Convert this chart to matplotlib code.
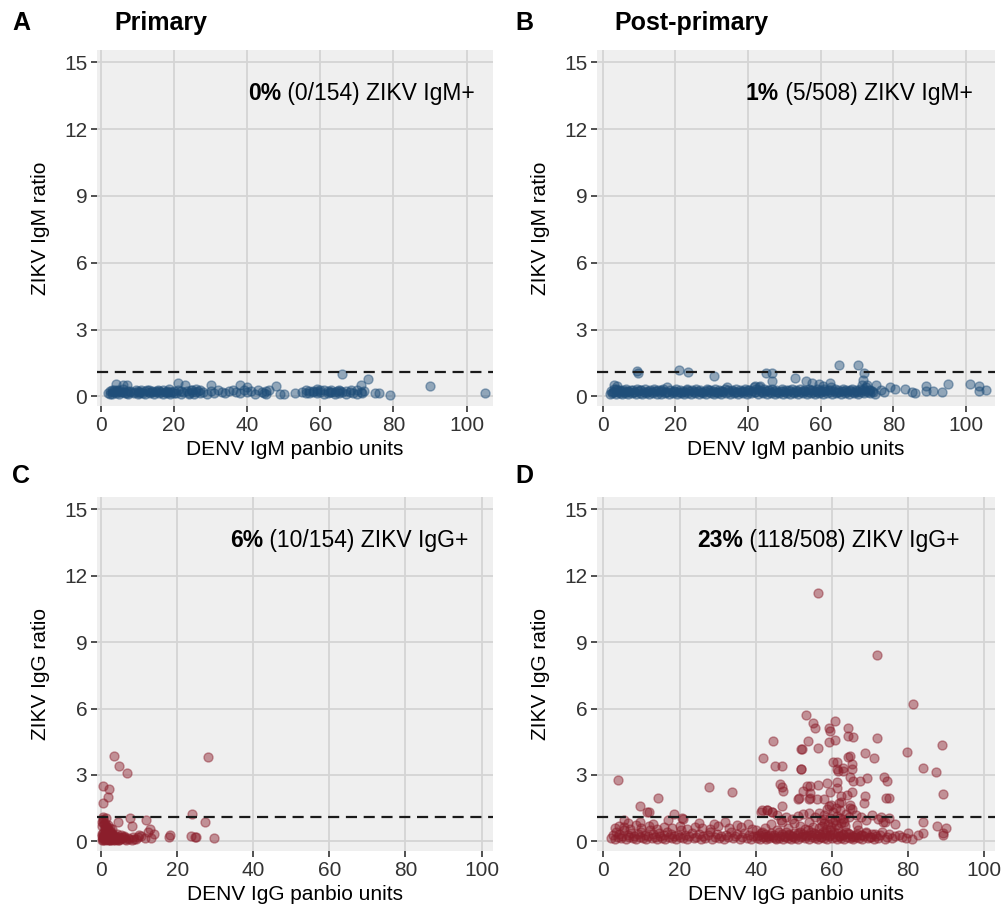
import matplotlib
matplotlib.use("Agg")
import matplotlib.pyplot as plt

plt.rcParams['font.family'] = ['Liberation Sans', 'DejaVu Sans']

# ---- Panel A: primary, DENV IgM vs ZIKV IgM ratio
a_x = [2, 2.5, 3, 3, 3.5, 4, 4, 4.5, 5, 5,
       5.5, 6, 6, 6.5, 7, 7, 7.5, 8, 9, 9.5,
       10, 10, 10.5, 11, 11.5, 12, 12, 13, 13, 13.5,
       14, 14.5, 15, 15.5, 16, 16.5, 17, 17, 18, 18,
       18.5, 19, 19, 20, 20.5, 21, 21, 22, 22.5, 23,
       23.5, 24, 24.5, 25, 25.5, 26, 26, 27, 27, 28,
       29, 30, 30, 31, 32, 33, 34, 35, 36, 37,
       38, 38, 39, 40, 40, 41, 42, 43, 44, 44.5,
       45, 45, 46, 48, 49, 50, 53, 55, 56, 56,
       57, 58, 59, 59, 60, 60, 61, 62, 62, 63,
       64, 64, 65, 65, 66, 66, 67, 67, 68, 69,
       70, 70, 71, 71, 72, 73, 75, 76, 79, 90,
       105, 3, 4.5, 8, 11, 15, 19.5, 24, 59, 65.5,
       2.5, 6, 9, 12.5, 16, 20, 26.5, 57, 63, 68.5,
       3.5, 7, 14, 17.5, 22, 25, 58, 61, 64.5, 71.5,
       5, 10.5, 18, 62.5]
a_y = [0.15, 0.25, 0.1, 0.3, 0.2, 0.15, 0.55, 0.25, 0.1, 0.3,
       0.2, 0.35, 0.5, 0.15, 0.25, 0.5, 0.1, 0.2, 0.15, 0.3,
       0.1, 0.25, 0.2, 0.3, 0.15, 0.1, 0.25, 0.2, 0.3, 0.15,
       0.25, 0.1, 0.2, 0.3, 0.15, 0.2, 0.1, 0.3, 0.25, 0.15,
       0.35, 0.2, 0.1, 0.25, 0.15, 0.6, 0.3, 0.1, 0.2, 0.5,
       0.25, 0.15, 0.3, 0.2, 0.1, 0.35, 0.2, 0.15, 0.3, 0.2,
       0.1, 0.5, 0.25, 0.15, 0.3, 0.2, 0.15, 0.25, 0.3, 0.2,
       0.5, 0.15, 0.3, 0.4, 0.2, 0.25, 0.1, 0.3, 0.2, 0.15,
       0.25, 0.1, 0.3, 0.45, 0.1, 0.1, 0.15, 0.2, 0.3, 0.15,
       0.25, 0.2, 0.35, 0.15, 0.3, 0.2, 0.1, 0.25, 0.15, 0.3,
       0.2, 0.1, 0.3, 0.15, 1.0, 0.2, 0.25, 0.1, 0.2, 0.15,
       0.3, 0.1, 0.5, 0.2, 0.25, 0.8, 0.15, 0.15, 0.05, 0.45,
       0.15, 0.2, 0.3, 0.25, 0.2, 0.25, 0.2, 0.1, 0.25, 0.25,
       0.1, 0.2, 0.2, 0.3, 0.25, 0.15, 0.25, 0.15, 0.2, 0.3,
       0.3, 0.15, 0.2, 0.2, 0.25, 0.3, 0.25, 0.3, 0.25, 0.15,
       0.2, 0.15, 0.2, 0.2]

# ---- Panel B: post-primary, DENV IgM vs ZIKV IgM ratio
b_x = [2, 2.3, 2.6, 3, 3.2, 3.5, 3.8, 4, 4.3, 4.6, 5, 5.2, 5.5, 5.9, 6.1, 6.4, 6.8, 7, 7.3, 7.7,
       8, 8.3, 8.7, 9, 9.4, 9.8, 10.1, 10.5, 10.8, 11.2, 11.6, 12, 12.3, 12.7, 13, 13.4, 13.8, 14.1, 14.5, 14.9,
       15.2, 15.6, 16, 16.3, 16.7, 17.1, 17.5, 17.8, 18.2, 18.6, 19, 19.3, 19.7, 20.1, 20.5, 20.8, 21.2, 21.6, 22, 22.3,
       22.7, 23.1, 23.5, 23.8, 24.2, 24.6, 25, 25.3, 25.7, 26.1, 26.5, 26.8, 27.2, 27.6, 28, 28.3, 28.7, 29.1, 29.5, 29.8,
       30.2, 30.6, 31, 31.3, 31.7, 32.1, 32.5, 32.8, 33.2, 33.6, 34, 34.3, 34.7, 35.1, 35.5, 35.8, 36.2, 36.6, 37, 37.3,
       37.7, 38.1, 38.5, 38.8, 39.2, 39.6, 40, 40.3, 40.7, 41.1, 41.5, 41.8, 42.2, 42.6, 43, 43.3, 43.7, 44.1, 44.5, 44.8,
       45.2, 45.6, 46, 46.3, 46.7, 47.1, 47.5, 47.8, 48.2, 48.6, 49, 49.3, 49.7, 50.1, 50.5, 50.8, 51.2, 51.6, 52, 52.3,
       52.7, 53.1, 53.5, 53.8, 54.2, 54.6, 55, 55.3, 55.7, 56.1, 56.5, 56.8, 57.2, 57.6, 58, 58.3, 58.7, 59.1, 59.5, 59.8,
       60.2, 60.6, 61, 61.3, 61.7, 62.1, 62.5, 62.8, 63.2, 63.6, 64, 64.3, 64.7, 65.1, 65.5, 65.8, 66.2, 66.6, 67, 67.3,
       67.7, 68.1, 68.5, 68.8, 69.2, 69.6, 70, 70.3, 70.7, 71.1, 71.5, 71.8, 72.2, 72.6, 73, 73.3, 73.7, 74.1, 74.5, 75,
       2.8, 4.8, 6.6, 8.5, 10.3, 12.2, 14, 15.9, 17.7, 19.5, 21.4, 23.3, 25.2, 27, 28.9, 30.8, 32.6, 34.5, 36.4, 38.3,
       40.1, 42, 43.9, 45.8, 47.6, 49.5, 51.4, 53.3, 55.1, 57, 58.9, 60.7, 62.6, 64.5, 66.4, 68.2, 70.1, 71.9, 72.8, 73.5,
       9.4, 9.8, 21, 23.4, 30.6, 44.9, 46.6, 46.6, 52.9, 56, 57.5, 59.4, 62.6, 65.1, 70.4, 72, 71.6, 71.3, 75.2, 79,
       80.4, 83.1, 85, 89, 89, 90.8, 93.3, 95, 101, 103.6, 103.6, 105.5, 76.5, 77.5, 86, 3, 3.5, 42, 43, 60.5]
b_y = [0.1, 0.25, 0.15, 0.35, 0.2, 0.1, 0.3, 0.45, 0.2, 0.15, 0.25, 0.1, 0.3, 0.2, 0.15, 0.35, 0.1, 0.25, 0.2, 0.3,
       0.15, 0.3, 0.2, 0.1, 0.35, 0.25, 0.15, 0.3, 0.1, 0.2, 0.35, 0.15, 0.25, 0.1, 0.3, 0.2, 0.15, 0.35, 0.25, 0.1,
       0.3, 0.2, 0.1, 0.25, 0.35, 0.15, 0.2, 0.4, 0.1, 0.3, 0.2, 0.15, 0.25, 0.35, 0.1, 0.2, 0.3, 0.15, 0.25, 0.1,
       0.2, 0.35, 0.15, 0.25, 0.1, 0.3, 0.2, 0.15, 0.35, 0.25, 0.1, 0.3, 0.2, 0.15, 0.25, 0.1, 0.35, 0.2, 0.3, 0.15,
       0.25, 0.1, 0.35, 0.2, 0.15, 0.3, 0.1, 0.25, 0.2, 0.35, 0.15, 0.4, 0.2, 0.1, 0.3, 0.25, 0.15, 0.35, 0.2, 0.1,
       0.3, 0.2, 0.15, 0.25, 0.35, 0.1, 0.2, 0.3, 0.15, 0.25, 0.4, 0.2, 0.35, 0.1, 0.3, 0.45, 0.2, 0.15, 0.35, 0.25,
       0.1, 0.3, 0.2, 0.15, 0.35, 0.25, 0.1, 0.3, 0.2, 0.15, 0.25, 0.35, 0.1, 0.2, 0.3, 0.15, 0.25, 0.1, 0.35, 0.2,
       0.15, 0.3, 0.25, 0.1, 0.35, 0.2, 0.15, 0.3, 0.25, 0.1, 0.2, 0.35, 0.15, 0.3, 0.2, 0.1, 0.25, 0.35, 0.15, 0.3,
       0.2, 0.1, 0.35, 0.25, 0.15, 0.3, 0.2, 0.4, 0.1, 0.25, 0.35, 0.15, 0.3, 0.2, 0.1, 0.25, 0.35, 0.15, 0.3, 0.2,
       0.1, 0.25, 0.35, 0.2, 0.15, 0.3, 0.25, 0.1, 0.35, 0.2, 0.3, 0.15, 0.25, 0.4, 0.2, 0.3, 0.15, 0.25, 0.2, 0.1,
       0.2, 0.3, 0.25, 0.2, 0.3, 0.2, 0.25, 0.3, 0.2, 0.25, 0.2, 0.3, 0.25, 0.2, 0.3, 0.2, 0.25, 0.3, 0.2, 0.25,
       0.3, 0.2, 0.25, 0.3, 0.2, 0.25, 0.3, 0.2, 0.25, 0.3, 0.2, 0.25, 0.3, 0.2, 0.25, 0.3, 0.2, 0.35, 0.5, 0.3,
       1.14, 1.05, 1.2, 1.1, 0.91, 1.05, 1.05, 0.68, 0.83, 0.7, 0.6, 0.55, 0.6, 1.39, 1.39, 1.05, 0.75, 0.5, 0.5, 0.4,
       0.35, 0.35, 0.2, 0.45, 0.25, 0.25, 0.2, 0.55, 0.55, 0.45, 0.25, 0.3, 0.3, 0.2, 0.15, 0.5, 0.35, 0.45, 0.4, 0.45]

# ---- Panel C: primary, DENV IgG vs ZIKV IgG ratio
c_x = [0.2, 0.4, 0.5, 0.6, 0.8, 0.9, 1, 1.1, 1.2, 1.3, 1.4, 1.5, 1.6, 1.7, 1.8, 1.9, 2, 2.1, 2.2, 2.3,
       2.4, 2.5, 2.6, 2.8, 3, 3.2, 3.4, 3.6, 3.8, 4, 4.3, 4.6, 5, 5.4, 5.8, 0.3, 0.7, 1.05, 1.45, 1.85,
       0.35, 0.65, 0.95, 1.25, 1.55, 1.75, 2.05, 2.35, 2.7, 3.1, 3.5, 0.15, 0.55, 0.85, 1.15, 1.65, 2.45, 2.9, 3.3, 4.8,
       0.25, 0.45, 0.75, 1.35, 1.95, 2.55, 3.7, 4.1, 4.5, 6.2, 6.6, 7, 7.4, 8, 8.6, 9.2, 0.6, 1, 1.4, 2.2,
       3.4, 4.7, 6.9, 28.2, 0.5, 2.1, 1.8, 0.4, 0.4, 0.5, 4.5, 7.5, 11.8, 24, 27.3, 8, 12.8, 12.2, 14, 10,
       10.6, 18, 17.8, 23.6, 25, 24.7, 29.6, 5.9, 8.5, 11.5, 1.2, 2.8, 4.2, 5.2, 6, 9.8, 13]
c_y = [0.05, 0.2, 0.4, 0.1, 0.3, 0.6, 0.15, 0.05, 0.25, 0.5, 0.1, 0.35, 0.2, 0.05, 0.45, 0.15, 0.3, 0.1, 0.25, 0.05,
       0.2, 0.4, 0.1, 0.15, 0.3, 0.05, 0.2, 0.1, 0.25, 0.15, 0.05, 0.2, 0.1, 0.15, 0.2, 0.7, 0.8, 0.55, 0.65, 0.75,
       0.35, 0.15, 0.45, 0.3, 0.55, 0.25, 0.5, 0.35, 0.45, 0.2, 0.1, 0.25, 0.05, 0.2, 0.4, 0.1, 0.05, 0.3, 0.15, 0.05,
       0.9, 0.15, 0.25, 0.2, 0.1, 0.3, 0.05, 0.1, 0.15, 0.1, 0.05, 0.15, 0.1, 0.05, 0.1, 0.1, 1.0, 0.85, 0.7, 0.6,
       3.87, 3.4, 3.1, 3.8, 2.5, 2.37, 2.0, 1.73, 1.1, 0.9, 0.9, 1.05, 0.95, 1.25, 0.87, 0.68, 0.55, 0.45, 0.35, 0.3,
       0.25, 0.3, 0.2, 0.25, 0.2, 0.2, 0.15, 0.2, 0.2, 0.15, 1.05, 0.55, 0.35, 0.3, 0.25, 0.2, 0.15]

# ---- Panel D: post-primary, DENV IgG vs ZIKV IgG ratio
d_x = [2, 2.5, 3, 3.4, 3.8, 4.2, 4.6, 5, 5.5, 6, 6.4, 6.8, 7.2, 7.7, 8.1, 8.6, 9, 9.5, 10, 10.4,
       10.9, 11.3, 11.8, 12.2, 12.7, 13.1, 13.6, 14, 14.5, 15, 15.4, 15.9, 16.3, 16.8, 17.2, 17.7, 18.1, 18.6, 19, 19.5,
       20, 20.5, 21, 21.5, 22, 22.6, 23.2, 23.8, 24.4, 25, 25.6, 26.2, 26.8, 27.4, 28, 28.6, 29.2, 29.8, 30.4, 31,
       31.6, 32.2, 32.8, 33.4, 34, 34.6, 35.2, 35.8, 36.4, 37, 37.6, 38.2, 38.8, 39.4, 40, 40.4, 40.8, 41.2, 41.6, 42,
       42.4, 42.8, 43.2, 43.6, 44, 44.4, 44.8, 45.2, 45.6, 46, 46.4, 46.8, 47.2, 47.6, 48, 48.4, 48.8, 49.2, 49.6, 50,
       50.4, 50.8, 51.2, 51.6, 52, 52.4, 52.8, 53.2, 53.6, 54, 54.4, 54.8, 55.2, 55.6, 56, 56.4, 56.8, 57.2, 57.6, 58,
       58.4, 58.8, 59.2, 59.6, 60, 60.4, 60.8, 61.2, 61.6, 62, 62.4, 62.8, 63.2, 63.6, 64, 64.4, 64.8, 65.2, 65.6, 66,
       66.4, 66.8, 67.2, 67.6, 68, 68.5, 69, 69.5, 70, 70.5, 71, 71.5, 72, 72.6, 73.2, 73.8, 74.4, 75, 75.8, 76.6,
       40.2, 41.4, 42.6, 43.8, 45, 46.2, 47.4, 48.6, 49.8, 51, 52.2, 53.4, 54.6, 55.8, 57, 58.2, 59.4, 60.6, 61.8, 63,
       64.2, 65.4, 66.6, 67.8, 69, 70.2, 71.4, 56.5, 57.5, 58.5, 59, 59.8, 60.2, 61, 61.5, 62.5, 63.5, 55, 53, 51.5,
       3, 4, 5.5, 7, 8.5, 10, 12, 14, 16, 18, 20, 22, 24, 26, 28, 30, 33, 36, 39, 77.5,
       78.5, 79.5, 80, 81, 6.5, 9.5, 13, 17, 21, 25, 29, 32, 35, 38, 44, 47, 50, 54, 58, 62,
       55.5, 56.5, 57.2, 58, 58.8, 59.5, 60.3, 61.2, 62, 62.8, 63.6, 64.5, 65.3, 66.2, 57.8, 59.2, 60.7, 61.8, 63.2, 64.8,
       41.5, 43, 44.2, 45.5, 46.5, 48, 49.5, 51, 52.5, 54, 67.5, 69, 70.5, 72, 73.5, 75, 76.5, 42.5, 48.5, 66.5,
       56.4, 71.9, 81.2, 53.2, 55.1, 55.6, 59.3, 59.5, 60.9, 64.1, 64.1, 65.5, 59.3, 60.9, 53.8, 56.4, 52, 44.5, 41.8, 45.1,
       46.8, 52, 71.9, 68.8, 71.1, 79.6, 88.8, 84, 87.3, 89.2, 3.9, 27.8, 33.9, 14.3, 9.6, 11.4, 12.1, 18.6, 20.6, 5.3,
       46.4, 46.8, 47.1, 46.8, 41.6, 42.9, 44.2, 51.2, 52.3, 54.3, 54.3, 56.4, 54.3, 56, 57.8, 58.8, 61.4, 61.4, 63, 64.7,
       65.2, 65.2, 64.7, 65.6, 61.4, 61.4, 62.3, 67.4, 69.3, 68.8, 68.5, 73.6, 74.5, 74.3, 75.1, 65.2, 63.9, 64.7, 59.5, 59.7,
       61, 84, 87.5, 89.9, 84, 82.7, 89.2, 89.2, 72.8, 73.8, 52.1, 52, 51.4, 53.5, 53.9, 60.4, 61.7, 63, 64.3, 62.5]
d_y = [0.15, 0.3, 0.1, 0.45, 0.2, 0.35, 0.15, 0.25, 0.5, 0.1, 0.3, 0.2, 0.4, 0.15, 0.25, 0.1, 0.35, 0.2, 0.45, 0.15,
       0.3, 0.1, 0.25, 0.5, 0.15, 0.35, 0.2, 0.1, 0.4, 0.25, 0.15, 0.3, 0.1, 0.45, 0.2, 0.35, 0.15, 0.25, 0.1, 0.3,
       0.2, 0.5, 0.15, 0.3, 0.1, 0.25, 0.4, 0.15, 0.2, 0.35, 0.1, 0.25, 0.15, 0.3, 0.45, 0.1, 0.2, 0.35, 0.15, 0.25,
       0.1, 0.3, 0.2, 0.45, 0.15, 0.25, 0.35, 0.1, 0.2, 0.4, 0.15, 0.3, 0.1, 0.25, 0.5, 0.15, 0.3, 0.1, 0.45, 0.2,
       0.35, 0.1, 0.25, 0.15, 0.4, 0.2, 0.3, 0.1, 0.5, 0.15, 0.25, 0.35, 0.1, 0.2, 0.45, 0.15, 0.3, 0.1, 0.25, 0.4,
       0.15, 0.3, 0.1, 0.45, 0.2, 0.35, 0.15, 0.25, 0.5, 0.1, 0.3, 0.2, 0.4, 0.15, 0.25, 0.1, 0.35, 0.2, 0.45, 0.15,
       0.3, 0.1, 0.25, 0.5, 0.15, 0.35, 0.2, 0.1, 0.4, 0.25, 0.15, 0.3, 0.1, 0.45, 0.2, 0.35, 0.15, 0.25, 0.1, 0.3,
       0.2, 0.5, 0.15, 0.3, 0.1, 0.25, 0.4, 0.15, 0.2, 0.35, 0.1, 0.25, 0.15, 0.3, 0.45, 0.1, 0.2, 0.35, 0.15, 0.25,
       0.25, 0.4, 0.2, 0.3, 0.15, 0.45, 0.25, 0.35, 0.2, 0.4, 0.25, 0.3, 0.45, 0.35, 0.2, 0.4, 0.3, 0.45, 0.25, 0.35,
       0.4, 0.2, 0.35, 0.3, 0.45, 0.2, 0.35, 0.6, 0.7, 0.55, 0.8, 0.65, 0.9, 0.75, 0.6, 0.85, 0.7, 0.65, 0.55, 0.7,
       0.6, 0.7, 0.65, 0.55, 0.75, 0.6, 0.7, 0.55, 0.65, 0.6, 0.7, 0.55, 0.65, 0.6, 0.55, 0.7, 0.6, 0.65, 0.55, 0.3,
       0.2, 0.15, 0.4, 0.1, 0.85, 0.9, 0.8, 0.95, 1.0, 0.85, 0.8, 0.9, 0.75, 0.8, 0.8, 0.9, 0.85, 0.9, 1.0, 1.05,
       1.1, 1.3, 0.95, 1.2, 1.45, 1.05, 1.35, 1.15, 1.4, 1.0, 1.25, 1.1, 1.45, 1.2, 0.85, 1.6, 0.95, 1.75, 0.9, 1.5,
       1.35, 1.4, 1.35, 1.2, 0.95, 1.1, 1.0, 1.15, 1.25, 1.3, 1.1, 0.95, 1.2, 1.0, 0.9, 1.05, 0.8, 0.6, 0.6, 0.75,
       11.2, 8.42, 6.19, 5.72, 5.36, 5.1, 5.1, 5.0, 5.45, 5.1, 4.78, 4.7, 4.5, 4.6, 4.55, 4.24, 4.17, 4.53, 3.75, 3.42,
       3.39, 3.27, 4.66, 3.98, 3.76, 4.03, 4.35, 3.3, 3.14, 2.14, 2.79, 2.45, 2.22, 1.97, 1.62, 1.32, 1.32, 1.23, 1.05, 0.95,
       2.6, 2.45, 2.3, 1.6, 1.4, 1.4, 1.35, 1.9, 2.3, 2.5, 2.2, 2.55, 1.98, 1.9, 1.9, 2.66, 3.6, 3.25, 3.3, 3.85,
       3.5, 3.25, 2.9, 2.75, 2.7, 2.4, 2.05, 2.75, 2.88, 2.05, 1.75, 2.9, 2.75, 1.95, 1.95, 2.25, 2.1, 1.65, 2.25, 1.65,
       1.5, 0.9, 0.72, 0.62, 0.38, 0.28, 0.38, 0.28, 1.1, 0.9, 4.17, 3.28, 1.97, 2.5, 1.9, 3.57, 3.2, 3.2, 3.8, 1.8]

cutoff = 1.1
blue = '#1F4E79'
red = '#8B1E2B'

panels = [
    dict(x=a_x, y=a_y, color=blue, xlim=(-1.1, 107.2), xlabel='DENV IgM panbio units',
         ylabel='ZIKV IgM ratio', bold='0%', rest=' (0/154) ZIKV IgM+', tx=49.2,
         letter='A', title='Primary', pos=[0.0963, 0.5592, 0.3932, 0.3865]),
    dict(x=b_x, y=b_y, color=blue, xlim=(-1.6, 108.0), xlabel='DENV IgM panbio units',
         ylabel='ZIKV IgM ratio', bold='1%', rest=' (5/508) ZIKV IgM+', tx=48.5,
         letter='B', title='Post-primary', pos=[0.5929, 0.5592, 0.3952, 0.3865]),
    dict(x=c_x, y=c_y, color=red, xlim=(-1.1, 103.0), xlabel='DENV IgG panbio units',
         ylabel='ZIKV IgG ratio', bold='6%', rest=' (10/154) ZIKV IgG+', tx=42.5,
         letter='C', title='', pos=[0.0963, 0.0760, 0.3932, 0.3845]),
    dict(x=d_x, y=d_y, color=red, xlim=(-1.65, 102.8), xlabel='DENV IgG panbio units',
         ylabel='ZIKV IgG ratio', bold='23%', rest=' (118/508) ZIKV IgG+', tx=36.7,
         letter='D', title='', pos=[0.5929, 0.0760, 0.3952, 0.3845]),
]

fig = plt.figure(figsize=(10.07, 9.21), dpi=100)

for p in panels:
    ax = fig.add_axes(p['pos'])
    ax.set_facecolor('#EFEFEF')
    for s in ax.spines.values():
        s.set_visible(False)
    ax.grid(True, color='#D4D4D4', linewidth=1.3)
    ax.set_axisbelow(True)
    ax.scatter(p['x'], p['y'], s=42, color=p['color'], alpha=0.45,
               edgecolors=p['color'], linewidths=1.0, zorder=3)
    ax.axhline(cutoff, color='#1A1A1A', linewidth=1.6, dashes=(5, 3), zorder=4)
    ax.set_xlim(*p['xlim'])
    ax.set_ylim(-0.43, 15.55)
    ax.set_xticks([0, 20, 40, 60, 80, 100])
    ax.set_yticks([0, 3, 6, 9, 12, 15])
    ax.tick_params(labelsize=15, labelcolor='#333333', color='#333333',
                   length=4, width=1.2, pad=3)
    ax.set_xlabel(p['xlabel'], fontsize=15, labelpad=4)
    ax.set_ylabel(p['ylabel'], fontsize=15, labelpad=10)
    ax.text(p['tx'], 13.6, p['bold'], fontsize=16.5, fontweight='bold',
            ha='right', va='center', zorder=5)
    ax.text(p['tx'], 13.6, p['rest'], fontsize=16.5, ha='left', va='center', zorder=5)

fig.text(0.012, 0.975, 'A', fontsize=18, fontweight='bold', va='center')
fig.text(0.114, 0.975, 'Primary', fontsize=18, fontweight='bold', va='center')
fig.text(0.512, 0.975, 'B', fontsize=18, fontweight='bold', va='center')
fig.text(0.610, 0.975, 'Post-primary', fontsize=18, fontweight='bold', va='center')
fig.text(0.012, 0.483, 'C', fontsize=18, fontweight='bold', va='center')
fig.text(0.512, 0.483, 'D', fontsize=18, fontweight='bold', va='center')

fig.savefig('out.png', dpi=100, facecolor='white')
